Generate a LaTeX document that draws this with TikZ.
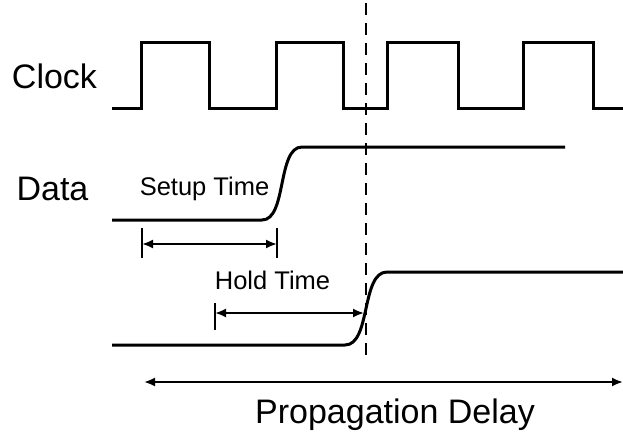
\documentclass[tikz,border=0pt]{standalone}
\usepackage{fontspec}
\setmainfont{Liberation Sans}
\usetikzlibrary{arrows.meta}
\begin{document}
\begin{tikzpicture}[x=1pt,y=-1pt,
  signal/.style={line width=3pt,line join=miter},
  dim/.style={line width=2pt,{Latex[length=11pt,width=9pt]}-{Latex[length=11pt,width=9pt]}},
  tick/.style={line width=2pt},
  marker/.style={line width=2pt,dash pattern=on 12pt off 8pt},
  biglabel/.style={font=\fontsize{34}{40}\selectfont,anchor=base,inner sep=0pt},
  smalllabel/.style={font=\fontsize{25.5}{30}\selectfont,anchor=base,inner sep=0pt}]
\useasboundingbox (0,0) rectangle (623,434);
% labels
\node[biglabel] (clk) at (54.5,88) {Clock};
\node[biglabel] (data) at (52.5,200) {Data};
\node[smalllabel] (setup) at (204.5,195) {Setup Time};
\node[smalllabel] (hold) at (272.5,289) {Hold Time};
\node[biglabel] (prop) at (395,423) {Propagation Delay};
% clock
\draw[signal] (112,108) -- (141,108) -- (141,42) -- (209,42) -- (209,108) -- (276,108) -- (276,42) -- (343,42) -- (343,108) -- (387,108) -- (387,42) -- (458,42) -- (458,108) -- (523,108) -- (523,42) -- (593,42) -- (593,108) -- (625,108);
% dashed marker
\coordinate (mtop) at (366,3);
\coordinate (mbot) at (366,356);
\draw[marker] (mtop) -- (mbot);
% data 1
\draw[signal] (112,220) -- (262,220) .. controls (287,220) and (277,147) .. (302,147) -- (565,147);
% data 2
\draw[signal] (112,345) -- (345,345) .. controls (371,345) and (361,272) .. (387,272) -- (625,272);
% setup
\coordinate (s1t) at (142,228); \coordinate (s1b) at (142,258);
\coordinate (s2t) at (277,228); \coordinate (s2b) at (277,258);
\coordinate (sa) at (142,244); \coordinate (sb) at (277,244);
\draw[tick] (s1t) -- (s1b);
\draw[tick] (s2t) -- (s2b);
\draw[dim] (sa) -- (sb);
% hold
\coordinate (h1t) at (215,303); \coordinate (h1b) at (215,330);
\coordinate (ha) at (215,313); \coordinate (hb) at (364,313);
\draw[tick] (h1t) -- (h1b);
\draw[dim] (ha) -- (hb);
% propagation
\coordinate (pa) at (144,382); \coordinate (pb) at (623,382);
\draw[dim] (pa) -- (pb);
\end{tikzpicture}
\end{document}
